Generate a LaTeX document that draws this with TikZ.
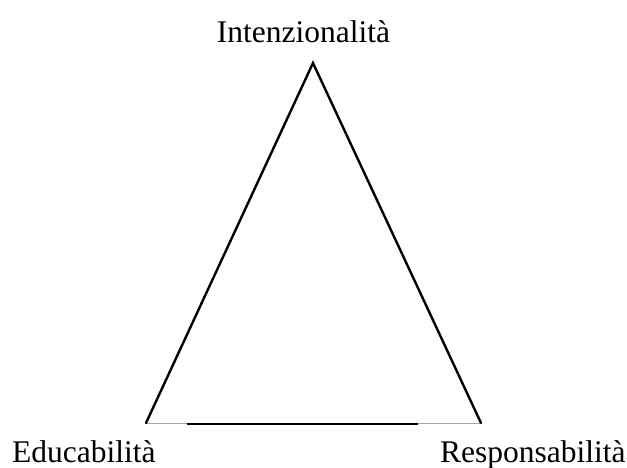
\documentclass[tikz,border=0pt]{standalone}
\usepackage{fontspec}
\setmainfont{Liberation Serif}
\usepackage{tikz}
\usetikzlibrary{positioning}

\begin{document}
\begin{tikzpicture}[
  x=1pt, y=1pt,
  label/.style={inner sep=0pt, font=\fontsize{31.5}{36}\selectfont},
  side/.style={line width=2.4pt, black, line cap=round},
  base/.style={line width=1pt, gray!70},
  basebar/.style={line width=2.8pt, black}
]
  \useasboundingbox (0,0) rectangle (627,467);

  \coordinate (top) at (313,404);
  \coordinate (left) at (146,44);
  \coordinate (right) at (481,44);
  \coordinate (bar1) at (187,43);
  \coordinate (bar2) at (418,43);

  \node[label, anchor=base] (intenz) at (303.5,424) {Intenzionalità};
  \node[label, anchor=base west] (educ) at (12,5) {Educabilità};
  \node[label, anchor=base west] (resp) at (440,4.5) {Responsabilità};

  \draw[base] (left) -- (right);
  \draw[basebar] (bar1) -- (bar2);
  \draw[side] (left) -- (top) -- (right);
\end{tikzpicture}
\end{document}
